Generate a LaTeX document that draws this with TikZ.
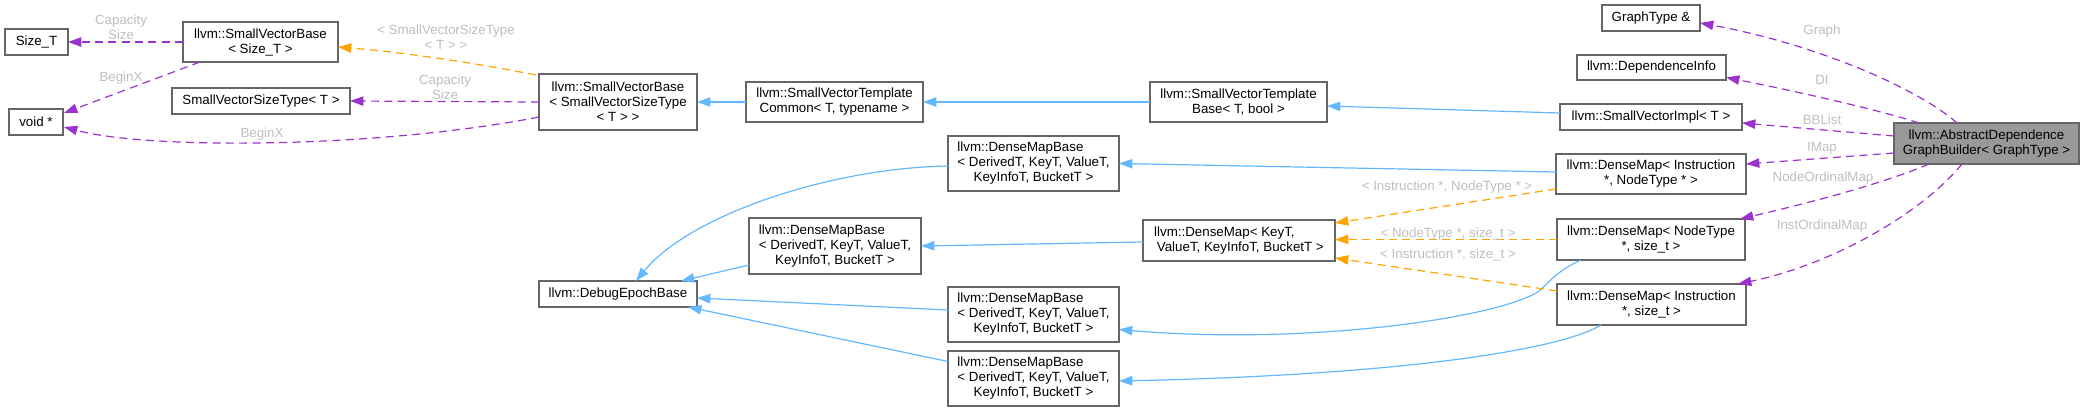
\documentclass[tikz,border=0pt]{standalone}
\usepackage{fontspec}
\setmainfont{Liberation Sans}
\usetikzlibrary{arrows.meta}
\definecolor{edgeblue}{HTML}{63B8FF}
\definecolor{edgepurple}{HTML}{9A32CD}
\definecolor{edgeorange}{HTML}{FFA500}
\definecolor{boxborder}{HTML}{666666}
\definecolor{rootfill}{HTML}{999999}
\definecolor{lblgray}{HTML}{BEBEBE}
\newcommand\dbox[7][]{\node[box,#1,minimum width={(#5-#3)*0.75pt},minimum height={(#6-#4)*0.75pt}] (#2) at ({(#3+#5)/2},{(#4+#6)/2}) {#7};}
\newcommand\dmbtext{\begin{tabular}{@{}l@{}}llvm::DenseMapBase\\< DerivedT, KeyT, ValueT,\\\multicolumn{1}{@{}c@{}}{KeyInfoT, BucketT >}\end{tabular}}
\tikzset{
  dfont/.style={font=\fontsize{10}{11.25}\selectfont},
  box/.style={draw=boxborder, line width=1pt, fill=white, inner sep=0pt, outer sep=0pt, align=center, dfont},
  root/.style={fill=rootfill},
  lbl/.style={inner sep=0pt, text=lblgray, align=center, dfont},
  tip/.style={-{Triangle[length=10pt,width=7pt]}},
  inh/.style={draw=edgeblue, line width=0.9pt, tip},
  mem/.style={draw=edgepurple, line width=0.9pt, dash pattern=on 6pt off 4pt, tip},
  tmpl/.style={draw=edgeorange, line width=0.9pt, dash pattern=on 6pt off 4pt, tip}
}
\begin{document}
\begin{tikzpicture}[x=0.75pt,y=-0.75pt]
\useasboundingbox (0,0) rectangle (2084,411);
% nodes
\dbox{sizeT}{5}{29}{68}{55}{Size\_T}
\dbox{voidp}{9}{109}{63}{135}{void *}
\dbox{svbsize}{183}{22}{338}{62}{llvm::SmallVectorBase\\< Size\_T >}
\dbox{svst}{172}{88}{350}{114}{SmallVectorSizeType< T >}
\dbox{svbsvst}{539}{74}{697}{130}{llvm::SmallVectorBase\\< SmallVectorSizeType\\< T > >}
\dbox{svtc}{746}{82}{923}{122}{llvm::SmallVectorTemplate\\Common< T, typename >}
\dbox{svtb}{1150}{82}{1327}{122}{llvm::SmallVectorTemplate\\Base< T, bool >}
\dbox{svimpl}{1560}{104}{1742}{130}{llvm::SmallVectorImpl< T >}
\dbox{graph}{1602}{5}{1700}{31}{GraphType \&}
\dbox{di}{1577}{55}{1726}{80}{llvm::DependenceInfo}
\dbox[root]{adgb}{1894}{123}{2079}{164}{llvm::AbstractDependence\\GraphBuilder< GraphType >}
\dbox{dmINT}{1556}{154}{1746}{194}{llvm::DenseMap< Instruction\\{}*, NodeType * >}
\dbox{dmNTs}{1557}{219}{1745}{260}{llvm::DenseMap< NodeType\\{}*, size\_t >}
\dbox{dmIs}{1557}{284}{1746}{325}{llvm::DenseMap< Instruction\\{}*, size\_t >}
\dbox[align=left]{dmK}{1143}{220}{1335}{261}{llvm::DenseMap< KeyT,\\\hspace{2pt}ValueT, KeyInfoT, BucketT >}
\dbox{dmb1}{948}{136}{1119}{191}{\dmbtext}
\dbox{dmb2}{749}{218}{921}{274}{\dmbtext}
\dbox{dmb3}{948}{287}{1119}{342}{\dmbtext}
\dbox{dmb4}{948}{351}{1119}{406}{\dmbtext}
\dbox{deb}{539}{281}{697}{307}{llvm::DebugEpochBase}
% left purple / orange
\draw[mem] (svbsize.west) -- (sizeT.east);
\draw[mem] ([shift={(17,0)}]svbsize.south west) -- ([shift={(1,4)}]voidp.north east);
\draw[tmpl] ([shift={(-3,1)}]svbsvst.north west) .. controls (470,62) and (400,52) .. ([shift={(0,5)}]svbsize.east);
\draw[mem] (svbsvst.west) -- (svst.east);
\draw[mem] ([shift={(0,15)}]svbsvst.west) .. controls (380,148) and (150,150) .. ([shift={(1,5)}]voidp.east);
% inheritance
\draw[inh] (svtc.west) -- (svbsvst.east);
\draw[inh] (svtb.west) -- (svtc.east);
\draw[inh] ([shift={(0,-4)}]svimpl.west) -- ([shift={(0,4)}]svtb.east);
\draw[inh] ([shift={(0,2.5)}]dmb1.west) .. controls (830,168) and (690,215) .. ([shift={(18,0)}]deb.north);
\draw[inh] ([shift={(0,19)}]dmb2.west) -- ([shift={(-16,0)}]deb.north east);
\draw[inh] ([shift={(0,-4.5)}]dmb3.west) -- ([shift={(0,4)}]deb.east);
\draw[inh] ([shift={(0,-17)}]dmb4.west) -- ([shift={(-9,0)}]deb.south east);
\draw[inh] ([shift={(0,-2)}]dmINT.west) -- (dmb1.east);
\draw[inh] ([shift={(0,1.5)}]dmK.west) -- (dmb2.east);
\draw[inh] ([shift={(24,0)}]dmNTs.south west) .. controls (1555,272) and (1550,282) .. (1538,292) .. controls (1490,320) and (1300,345) .. ([shift={(0,15)}]dmb3.east);
\draw[inh] ([shift={(44,0)}]dmIs.south west) .. controls (1560,350) and (1400,375) .. ([shift={(0,2.5)}]dmb4.east);
% template instances
\draw[tmpl] ([shift={(0,15)}]dmINT.west) -- ([shift={(0,3)}]dmK.north east);
\draw[tmpl] (dmNTs.west) -- ([shift={(0,-1)}]dmK.east);
\draw[tmpl] ([shift={(0,7)}]dmIs.north west) -- ([shift={(0,-3)}]dmK.south east);
% members of root
\draw[mem] ([shift={(-29.5,0)}]adgb.north) .. controls (1920,90) and (1820,45) .. ([shift={(0,5)}]graph.east);
\draw[mem] ([shift={(-67.5,0)}]adgb.north) .. controls (1880,110) and (1790,90) .. ([shift={(0,10)}]di.east);
\draw[mem] ([shift={(0,-7.5)}]adgb.west) -- ([shift={(0,6)}]svimpl.east);
\draw[mem] ([shift={(0,9.5)}]adgb.west) -- ([shift={(0,-10)}]dmINT.east);
\draw[mem] ([shift={(35,0)}]adgb.south west) .. controls (1880,185) and (1800,205) .. ([shift={(-5,0)}]dmNTs.north east);
\draw[mem] ([shift={(68,0)}]adgb.south west) .. controls (1920,215) and (1830,265) .. ([shift={(-8,0)}]dmIs.north east);
% labels
\node[lbl] (l1) at (121,27) {Capacity\\Size};
\node[lbl] (l2) at (121,78) {BeginX};
\node[lbl] (l3) at (446,37) {< SmallVectorSizeType\\< T > >};
\node[lbl] (l4) at (445,87) {Capacity\\Size};
\node[lbl] (l5) at (262,134) {BeginX};
\node[lbl] (l6) at (1447,187) {< Instruction *, NodeType * >};
\node[lbl] (l7) at (1448,234) {< NodeType *, size\_t >};
\node[lbl] (l8) at (1448,255) {< Instruction *, size\_t >};
\node[lbl] (l9) at (1822,31) {Graph};
\node[lbl] (l10) at (1822,80) {DI};
\node[lbl] (l11) at (1822,120) {BBList};
\node[lbl] (l12) at (1822,148) {IMap};
\node[lbl] (l13) at (1823,178) {NodeOrdinalMap};
\node[lbl] (l14) at (1822,226) {InstOrdinalMap};
\end{tikzpicture}
\end{document}
